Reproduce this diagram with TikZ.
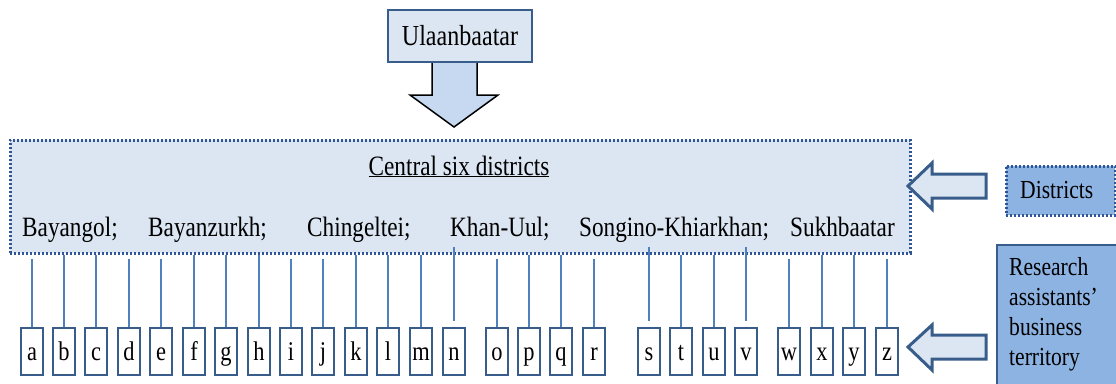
\documentclass[tikz,border=0pt]{standalone}
\usepackage{fontspec}
\setmainfont{Liberation Serif}[FakeStretch=0.83]
\definecolor{lightfill}{HTML}{DCE6F2}
\definecolor{arrowfill}{HTML}{C6D9F1}
\definecolor{midfill}{HTML}{8DB3E2}
\definecolor{darkblue}{HTML}{385D8A}
\definecolor{dotblue}{HTML}{2F5597}
\definecolor{connblue}{HTML}{4F81BD}
\begin{document}
\begin{tikzpicture}[x=1pt,y=-1pt,
  mainfont/.style={font=\fontsize{28}{32}\selectfont},
  ubox/.style={draw=darkblue,line width=1.8pt,fill=lightfill,minimum width=144pt,minimum height=52pt,inner sep=0pt,font=\fontsize{29}{32}\selectfont},
  dottedborder/.style={draw=dotblue,line width=3pt,dash pattern=on 2.2pt off 1.8pt},
  bigbox/.style={dottedborder,fill=lightfill,minimum width=900pt,minimum height=113pt,inner sep=0pt},
  letter/.style={draw=darkblue,line width=1.8pt,fill=white,minimum width=22pt,minimum height=47pt,inner sep=0pt,text height=18pt,text depth=0pt,font=\fontsize{27}{30}\selectfont},
  conn/.style={draw=connblue,line width=1.5pt},
  blockarrow/.style={draw=darkblue,line width=3pt,fill=lightfill,line join=miter},
  downarrow/.style={draw=black,line width=1.5pt,fill=arrowfill,line join=miter},
  districtname/.style={mainfont,anchor=base west,inner sep=0pt},
  sidelabel/.style={font=\fontsize{26}{30}\selectfont,inner sep=0pt}
]
\useasboundingbox (0,0) rectangle (1116,383);
\clip (0,0) rectangle (1116,383);
\fill[white] (0,0) rectangle (1116,383);

% down arrow
\draw[downarrow] (432,60) -- (432,95) -- (410,95) -- (454,127) -- (498,95) -- (477,95) -- (477,60) -- cycle;
\node[ubox] (ulaan) at (460,36) {Ulaanbaatar};

% central box
\node[bigbox] (central) at (460,196.5) {};
\node[mainfont,anchor=base,inner sep=0pt] (title) at (459,175) {\underline{Central six districts}};
\node[districtname] (d1) at (22,236) {Bayangol;};
\node[districtname] (d2) at (148,236) {Bayanzurkh;};
\node[districtname] (d3) at (307,236) {Chingeltei;};
\node[districtname] (d4) at (450,236) {Khan-Uul;};
\node[districtname] (d5) at (579,236) {Songino-Khiarkhan;};
\node[districtname] (d6) at (790,236) {Sukhbaatar};

% letter boxes
\foreach \n/\x in {a/32,b/64,c/96,d/129,e/161,f/194,g/226,h/259,i/291,j/323,k/356,l/388,m/421,n/454,o/497,p/529,q/561,r/594,s/649,t/681,u/714,v/746,w/789,x/822,y/854,z/887}
  \node[letter] (l\n) at (\x,351.5) {\n};

% connectors
\foreach \n in {b,c,f,g,h,k,l,m,p,q,t,u,x,y}
  \draw[conn] (l\n.north) -- (l\n.north |- central.south);
\foreach \n in {a,d,e,i,j,o,r,w,z}
  \draw[conn] (l\n.north) -- ([yshift=-4pt]l\n.north |- central.south);
\foreach \n in {n,s,v}
  \draw[conn] ([yshift=6pt]l\n.north) -- ([yshift=8pt]l\n.north |- central.south);

% right-side labels
\node[dottedborder,fill=midfill,minimum width=109pt,minimum height=49pt,inner sep=0pt] (districts) at (1060.5,190.5) {};
\node[sidelabel,anchor=west] (districtstxt) at (1020,190) {Districts};

\node[draw=darkblue,line width=2pt,fill=midfill,minimum width=140pt,minimum height=160pt,inner sep=0pt,anchor=north west] (research) at (996,244) {};
\node[sidelabel,anchor=north west,align=left] (researchtxt) at (1009,257) {Research\\assistants’\\business\\territory};

% left-pointing block arrows
\draw[blockarrow] (986,174) -- (932,174) -- (932,163) -- (908,186) -- (932,209) -- (932,198) -- (986,198) -- cycle;
\draw[blockarrow] (986,335) -- (932,335) -- (932,325) -- (908,347) -- (932,370) -- (932,359) -- (986,359) -- cycle;
\end{tikzpicture}
\end{document}
